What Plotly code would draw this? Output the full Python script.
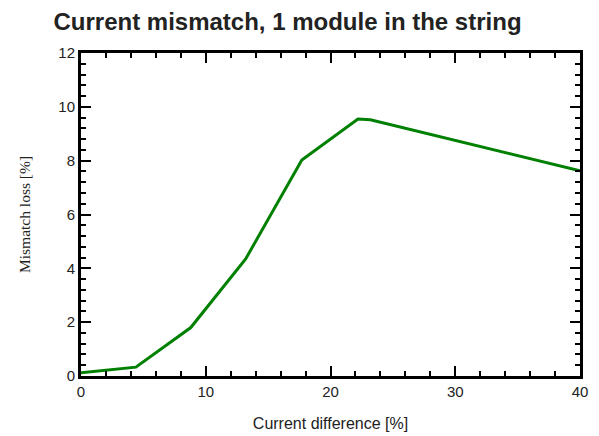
import plotly.graph_objects as go

# Current difference between modules [%] and resulting mismatch loss [%]
current_difference = [0.0, 2.2, 4.4, 8.8, 13.2, 17.7, 22.2, 23.2, 40.0]
mismatch_loss = [0.12, 0.22, 0.33, 1.8, 4.35, 8.02, 9.55, 9.52, 7.62]

x_ticks = [0, 10, 20, 30, 40]
y_ticks = [0, 2, 4, 6, 8, 10, 12]

fig = go.Figure()
fig.add_trace(go.Scatter(
    x=current_difference,
    y=mismatch_loss,
    mode="lines",
    line=dict(color="#008000", width=3),
    hoverinfo="x+y",
))

axis_common = dict(
    showline=True,
    linecolor="black",
    linewidth=3,
    mirror="ticks",
    ticks="inside",
    ticklen=10,
    tickwidth=1.5,
    tickcolor="black",
    showgrid=False,
    zeroline=False,
    automargin=False,
    tickfont=dict(family="Liberation Sans, Arial, sans-serif", size=15, color="#222222"),
)

fig.update_xaxes(
    range=[0, 40],
    tickvals=x_ticks,
    minor=dict(dtick=2, ticks="inside", ticklen=5, tickwidth=1.5, tickcolor="black", showgrid=False),
    title=dict(text="Current difference [%]",
               font=dict(family="Liberation Sans, Arial, sans-serif", size=16, color="#222222"),
               standoff=19),
    **axis_common,
)
fig.update_yaxes(
    range=[0, 12],
    tickvals=y_ticks,
    minor=dict(dtick=0.4, ticks="inside", ticklen=5, tickwidth=1.5, tickcolor="black", showgrid=False),
    title=dict(text="Mismatch loss [%]",
               font=dict(family="Liberation Serif, Times New Roman, serif", size=15.5, color="#222222"),
               standoff=24),
    **axis_common,
)

fig.update_layout(
    width=599,
    height=436,
    margin=dict(l=81, r=19, t=53, b=60),
    paper_bgcolor="white",
    plot_bgcolor="white",
    showlegend=False,
    title=dict(
        text="<b>Current mismatch, 1 module in the string</b>",
        font=dict(family="Liberation Sans, Arial, sans-serif", size=24, color="#222222"),
        x=0.48,
        xanchor="center",
        y=0.95,
        yanchor="middle",
    ),
)

fig.write_html("out.html")
